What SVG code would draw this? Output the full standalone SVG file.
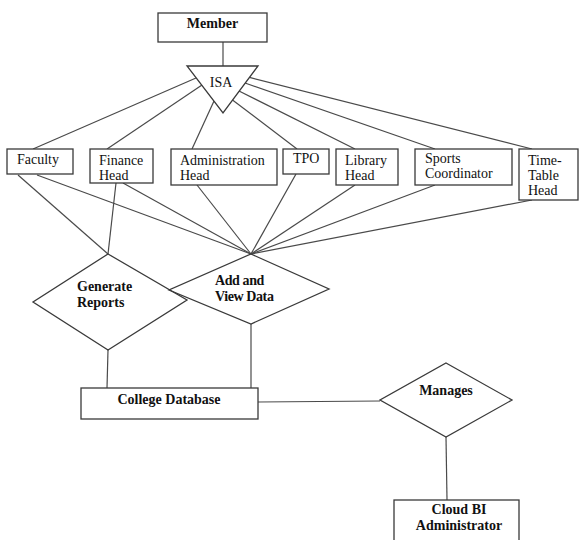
<svg xmlns="http://www.w3.org/2000/svg" width="582" height="540" viewBox="0 0 582 540">
  <style>
    .shape { fill: none; stroke: #3a3a3a; stroke-width: 1.3; }
    .box { fill: #ffffff; stroke: #3a3a3a; stroke-width: 1.3; }
    .link { fill: none; stroke: #4a4a4a; stroke-width: 1.2; }
    .lbl { font-family: "Liberation Serif", "Times New Roman", serif; font-size: 14px; fill: #111111; }
    .bold { font-weight: bold; }
    .mid { text-anchor: middle; }
  </style>
  <rect width="582" height="540" fill="#ffffff"/>

  <!-- connectors -->
  <g id="connectors">
    <!-- Member to ISA -->
    <line class="link" x1="223" y1="42" x2="223" y2="66"/>
    <!-- ISA to each member type -->
    <line class="link" x1="196" y1="78" x2="33" y2="149"/>
    <line class="link" x1="202" y1="85" x2="107" y2="149"/>
    <line class="link" x1="214" y1="101" x2="192" y2="149"/>
    <line class="link" x1="232.5" y1="100" x2="297" y2="149"/>
    <line class="link" x1="239" y1="91" x2="355" y2="149"/>
    <line class="link" x1="245" y1="83" x2="435" y2="149"/>
    <line class="link" x1="249.5" y1="77.4" x2="532" y2="149"/>
    <!-- member types to Generate Reports -->
    <line class="link" x1="18" y1="175" x2="108" y2="254"/>
    <line class="link" x1="116" y1="183" x2="108" y2="254"/>
    <!-- member types to Add and View Data -->
    <line class="link" x1="37" y1="175" x2="251" y2="254"/>
    <line class="link" x1="123" y1="183" x2="251" y2="254"/>
    <line class="link" x1="197" y1="185" x2="251" y2="254"/>
    <line class="link" x1="296" y1="174" x2="251" y2="254"/>
    <line class="link" x1="355" y1="185" x2="251" y2="254"/>
    <line class="link" x1="435" y1="185" x2="251" y2="254"/>
    <line class="link" x1="532" y1="200" x2="251" y2="254"/>
    <!-- relationships to College Database -->
    <line class="link" x1="108" y1="350" x2="107" y2="388"/>
    <line class="link" x1="251" y1="324" x2="251" y2="388"/>
    <line class="link" x1="258" y1="402" x2="380" y2="401"/>
    <!-- Manages to Cloud BI Administrator -->
    <line class="link" x1="446" y1="437" x2="447" y2="500"/>
  </g>

  <g id="member">
    <rect class="box" x="158" y="13" width="109" height="29"/>
    <text class="lbl bold mid" x="212.5" y="28">Member</text>
  </g>

  <g id="isa">
    <polygon class="box" points="187,66 258,66 223,113"/>
    <text class="lbl mid" x="221" y="87">ISA</text>
  </g>

  <g id="faculty">
    <rect class="box" x="7" y="149" width="66" height="25"/>
    <text class="lbl" x="17" y="164">Faculty</text>
  </g>

  <g id="finance-head">
    <rect class="box" x="90" y="149" width="63" height="34"/>
    <text class="lbl" x="99" y="165">Finance</text>
    <text class="lbl" x="99" y="180">Head</text>
  </g>

  <g id="administration-head">
    <rect class="box" x="171" y="149" width="106" height="36"/>
    <text class="lbl" x="180" y="165">Administration</text>
    <text class="lbl" x="180" y="180">Head</text>
  </g>

  <g id="tpo">
    <rect class="box" x="283" y="149" width="46" height="25"/>
    <text class="lbl" x="293" y="163">TPO</text>
  </g>

  <g id="library-head">
    <rect class="box" x="336" y="149" width="62" height="36"/>
    <text class="lbl" x="345" y="165">Library</text>
    <text class="lbl" x="345" y="180">Head</text>
  </g>

  <g id="sports-coordinator">
    <rect class="box" x="415" y="149" width="97" height="36"/>
    <text class="lbl" x="425" y="163">Sports</text>
    <text class="lbl" x="425" y="178">Coordinator</text>
  </g>

  <g id="time-table-head">
    <rect class="box" x="519" y="149" width="59" height="51"/>
    <text class="lbl" x="528" y="165">Time-</text>
    <text class="lbl" x="528" y="180">Table</text>
    <text class="lbl" x="528" y="195">Head</text>
  </g>

  <g id="generate-reports">
    <polygon class="shape" points="108,254 187,300 108,350 33,302"/>
    <text class="lbl bold" x="77" y="291">Generate</text>
    <text class="lbl bold" x="77" y="307">Reports</text>
  </g>

  <g id="add-and-view-data">
    <polygon class="shape" points="251,254 329,289 251,324 169,290"/>
    <text class="lbl bold" x="215" y="285" letter-spacing="-0.4">Add and</text>
    <text class="lbl bold" x="215" y="301" letter-spacing="-0.4">View Data</text>
  </g>

  <g id="college-database">
    <rect class="box" x="81" y="388" width="177" height="31"/>
    <text class="lbl bold mid" x="169" y="404">College Database</text>
  </g>

  <g id="manages">
    <polygon class="box" points="446,363 512,400 446,437 380,400"/>
    <text class="lbl bold mid" x="446" y="395">Manages</text>
  </g>

  <g id="cloud-bi-administrator">
    <rect class="box" x="394" y="500" width="125" height="50"/>
    <text class="lbl bold mid" x="459" y="514">Cloud BI</text>
    <text class="lbl bold mid" x="459" y="530">Administrator</text>
  </g>
</svg>
